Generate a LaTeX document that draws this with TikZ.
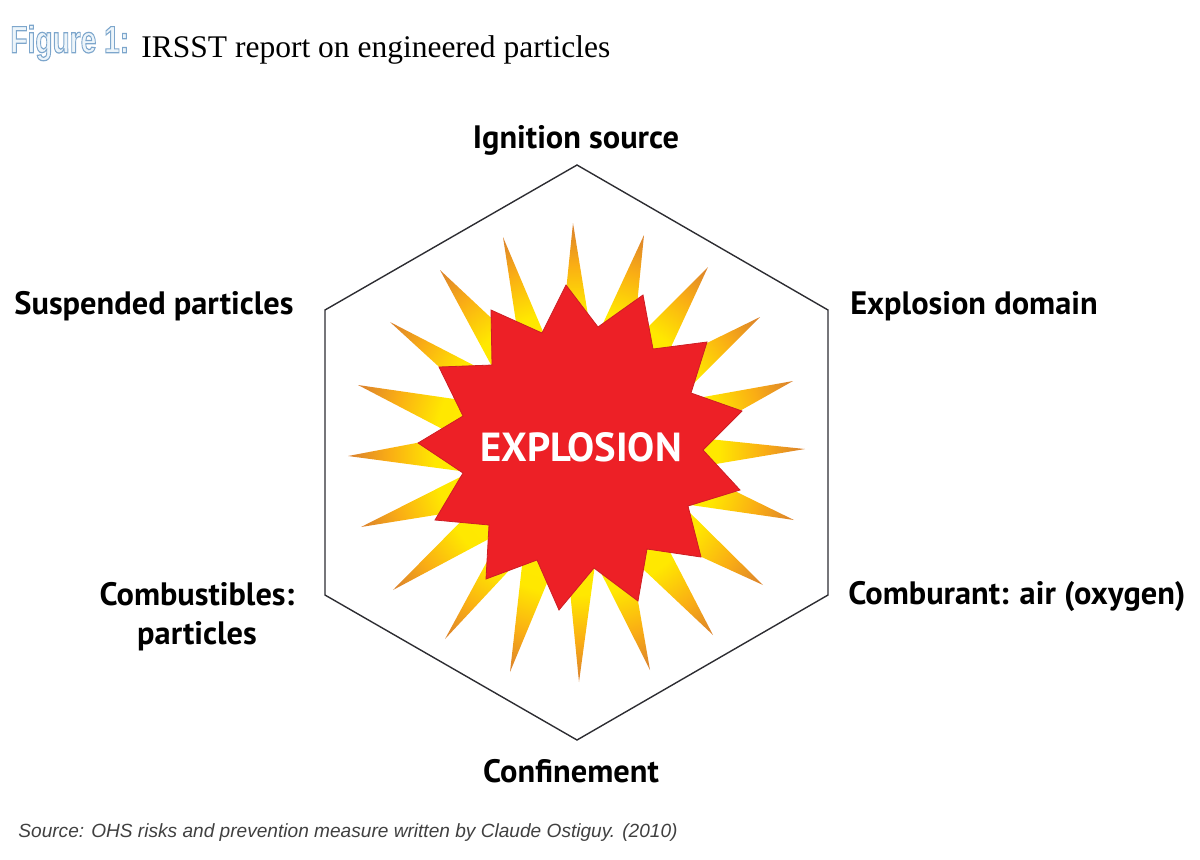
\documentclass[tikz,border=0pt]{standalone}
\usepackage{fontspec}
\setmainfont{Liberation Serif}
\setsansfont{PT Sans}
\newfontfamily\sourcefont{Liberation Sans}
\newfontfamily\figfont{Liberation Sans}
\definecolor{starred}{RGB}{237,32,38}
\definecolor{staredge}{RGB}{205,30,35}
\definecolor{hexline}{RGB}{45,45,50}
\pgfdeclareradialshading{spikeshade}{\pgfpoint{0bp}{0bp}}{rgb(0bp)=(1,0.93,0); rgb(15.5bp)=(1,0.91,0); rgb(20.5bp)=(0.98,0.68,0.08); rgb(25bp)=(0.85,0.50,0.18); rgb(50bp)=(0.85,0.50,0.18)}
\newcommand{\outlinetext}[1]{\special{pdf:code q 2 Tr 0.6 w 0.49 0.65 0.80 RG 0.93 0.96 0.98 rg}#1\special{pdf:code Q}}
\tikzset{
  cornerlabel/.style={font=\sffamily\bfseries\fontsize{16.2}{19.5}\selectfont, text=black, align=center, inner sep=0pt},
}
\begin{document}
\begin{tikzpicture}[x=0.5pt,y=-0.5pt]
    \useasboundingbox (0,0) rectangle (1200,859);

      \draw (10,43)node[anchor=west,inner sep=0pt](fig){\scalebox{0.74}[1]{\outlinetext{\figfont\bfseries\fontsize{19}{21}\selectfont Figure 1:}}};
      \draw (141,50)node[anchor=west,inner sep=0pt](title){\fontsize{15.75}{19}\selectfont IRSST report on engineered particles};

      % hexagon
      \draw[hexline, line width=0.7pt, line join=miter] (577,165)--(828,310)--(828,595)--(577,740)--(325,595)--(325,310)--cycle;

      % spikes, going round from the top
      \shade[shading=spikeshade]
        (573,223)--(561,340)--(592,340)--cycle
        (644,235)--(593,345)--(633,345)--cycle
        (708,267)--(630,345)--(658,375)--cycle
        (760,317)--(660,366)--(670,407)--cycle
        (793,381)--(670,403)--(690,439)--cycle
        (805,449)--(680,436)--(680,470)--cycle
        (794,520)--(700,474)--(670,502)--cycle
        (763,585)--(672,495)--(660,538)--cycle
        (713,635)--(625,552)--(655,523)--cycle
        (650,670)--(590,551)--(630,555)--cycle
        (579,682)--(566,550)--(597,550)--cycle
        (510,672)--(526,530)--(569,530)--cycle
        (445,639)--(510,519)--(544,533)--cycle
        (393,590)--(490,492)--(530,517)--cycle
        (361,527)--(500,457)--(510,503)--cycle
        (348,456)--(490,429)--(490,475)--cycle
        (358,385)--(475,402)--(475,446)--cycle
        (390,322)--(510,384)--(484,408)--cycle
        (440,270)--(520,345)--(510,400)--cycle
        (503,237)--(525,381)--(563,379)--cycle;

      % star
      \draw[staredge, fill=starred, line width=0.4pt] (566,285)--(598,327)--(643,295)--(653,349)--(707,342)--(691,393)--(742,411)--(703,450)--(740,490)--(688,506)--(701,557)--(647,549)--(638,601)--(594,568)--(559,610)--(537,560)--(486,579)--(489,525)--(435,520)--(463,473)--(418,443)--(463,416)--(439,367)--(492,365)--(491,310)--(542,333)--cycle;
      \draw (581,447)node[font=\sffamily\bfseries\fontsize{20.3}{24}\selectfont, text=white, inner sep=0pt](explosion){EXPLOSION};

      \draw (576,140)node[cornerlabel](ignition){Ignition source};
      \draw (154,306)node[cornerlabel](suspended){Suspended particles};
      \draw (974,306)node[cornerlabel](domain){Explosion domain};
      \draw (197,617)node[cornerlabel](combustibles){Combustibles:\\particles};
      \draw (1017,596)node[cornerlabel](comburant){Comburant: air (oxygen)};
      \draw (571,771)node[cornerlabel](confinement){Confinement};

      \draw (18,833)node[anchor=west,inner sep=0pt,text=black!75](source){\sourcefont\itshape\fontsize{9.55}{12}\selectfont Source: OHS risks and prevention measure written by Claude Ostiguy. (2010)};
  \end{tikzpicture}
\end{document}
